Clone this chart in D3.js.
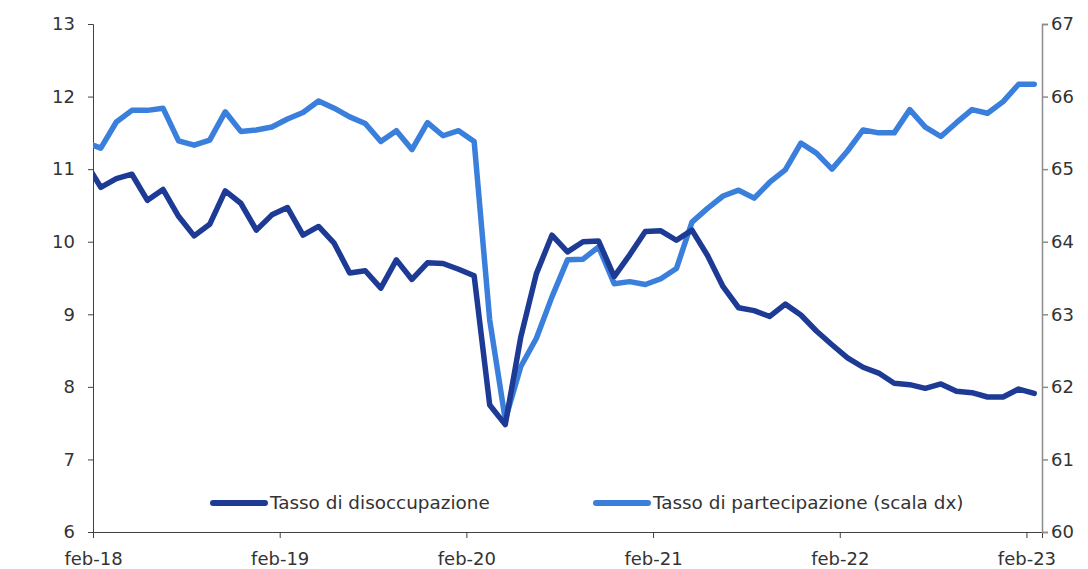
<!DOCTYPE html>
<html>
<head>
<meta charset="utf-8">
<script src="https://cdn.jsdelivr.net/npm/d3@7"></script>
<style>
  body { margin: 0; background: #fff; }
  text { font-family: "DejaVu Sans", sans-serif; fill: #333; }
</style>
</head>
<body>
<div id="vis"></div>
<script>
// months jan-18 .. feb-23 (jan-18 sits just outside the plot, clipped at the axis)
const MONTHS = [
  "2018-01","2018-02","2018-03","2018-04","2018-05","2018-06","2018-07","2018-08","2018-09","2018-10","2018-11","2018-12",
  "2019-01","2019-02","2019-03","2019-04","2019-05","2019-06","2019-07","2019-08","2019-09","2019-10","2019-11","2019-12",
  "2020-01","2020-02","2020-03","2020-04","2020-05","2020-06","2020-07","2020-08","2020-09","2020-10","2020-11","2020-12",
  "2021-01","2021-02","2021-03","2021-04","2021-05","2021-06","2021-07","2021-08","2021-09","2021-10","2021-11","2021-12",
  "2022-01","2022-02","2022-03","2022-04","2022-05","2022-06","2022-07","2022-08","2022-09","2022-10","2022-11","2022-12",
  "2023-01","2023-02"
];

// Tasso di disoccupazione (left axis)
const UNEMP = [
  11.10, 10.75, 10.87, 10.93, 10.57, 10.72, 10.35, 10.08, 10.24, 10.70, 10.53, 10.16,
  10.37, 10.47, 10.09, 10.21, 9.98, 9.57, 9.60, 9.36, 9.75, 9.48, 9.71, 9.70,
  9.62, 9.53, 7.75, 7.48, 8.69, 9.56, 10.09, 9.86, 10.00, 10.01, 9.52, 9.82,
  10.14, 10.15, 10.02, 10.16, 9.81, 9.38, 9.09, 9.05, 8.97, 9.14, 8.99, 8.77,
  8.58, 8.40, 8.27, 8.19, 8.05, 8.03, 7.98, 8.04, 7.94, 7.92, 7.86, 7.86,
  7.97, 7.91
];

// Tasso di partecipazione (right axis)
const PARTIC = [
  65.37, 65.29, 65.65, 65.81, 65.81, 65.84, 65.39, 65.33, 65.40, 65.79, 65.52, 65.54,
  65.58, 65.69, 65.78, 65.94, 65.84, 65.72, 65.63, 65.38, 65.53, 65.27, 65.64, 65.46,
  65.53, 65.38, 62.92, 61.55, 62.28, 62.67, 63.24, 63.75, 63.76, 63.93, 63.42, 63.45,
  63.41, 63.49, 63.63, 64.27, 64.46, 64.63, 64.71, 64.60, 64.82, 64.99, 65.36, 65.22,
  65.00, 65.25, 65.54, 65.50, 65.50, 65.82, 65.58, 65.45, 65.64, 65.82, 65.77, 65.93,
  66.17, 66.17
];

const X_TICKS = ["2018-02","2019-02","2020-02","2021-02","2022-02","2023-02"];
const X_TICK_LABELS = ["feb-18","feb-19","feb-20","feb-21","feb-22","feb-23"];
const Y_LEFT_TICKS = [6, 7, 8, 9, 10, 11, 12, 13];
const Y_RIGHT_TICKS = [60, 61, 62, 63, 64, 65, 66, 67];
const SERIES_NAMES = ["Tasso di disoccupazione", "Tasso di partecipazione (scala dx)"];

const FRAME_WIDTH = 1088;
const FRAME_HEIGHT = 569;
const PLOT = {left: 93, right: 1042, top: 24, bottom: 532};
const DARK = "#1d3a94";
const LIGHT = "#3a7fdc";

const svg = d3.select("#vis").append("svg")
    .attr("width", FRAME_WIDTH)
    .attr("height", FRAME_HEIGHT);

// month index counted from feb-18; each month is a band, points sit mid-band
const monthIdx = (s) => {
  const [y, m] = s.split("-").map(Number);
  return (y - 2018) * 12 + (m - 2);
};

const X = d3.scaleLinear().domain([0, 61]).range([PLOT.left, PLOT.right]);
const Y_LEFT = d3.scaleLinear().domain([6, 13]).range([PLOT.bottom, PLOT.top]);
const Y_RIGHT = d3.scaleLinear().domain([60, 67]).range([PLOT.bottom, PLOT.top]);

svg.append("clipPath").attr("id", "plotclip")
  .append("rect")
    .attr("x", PLOT.left).attr("y", 0)
    .attr("width", PLOT.right - PLOT.left)
    .attr("height", FRAME_HEIGHT);

// axes
const xAxis = svg.append("g")
    .attr("transform", "translate(0," + PLOT.bottom + ")")
    .call(d3.axisBottom(X)
      .tickValues(X_TICKS.map(monthIdx))
      .tickFormat((d, i) => X_TICK_LABELS[i])
      .tickSizeOuter(0).tickSize(6).tickPadding(14));
xAxis.select(".domain").attr("stroke", "#404040");
xAxis.selectAll(".tick line").attr("stroke", "#404040");

const yAxisL = svg.append("g")
    .attr("transform", "translate(" + PLOT.left + ",0)")
    .call(d3.axisLeft(Y_LEFT).tickValues(Y_LEFT_TICKS).tickFormat(d3.format("d"))
      .tickSizeOuter(0).tickSize(5).tickPadding(13));
yAxisL.select(".domain").attr("stroke", "#404040");
yAxisL.selectAll(".tick line").attr("stroke", "#404040");

const yAxisR = svg.append("g")
    .attr("transform", "translate(" + PLOT.right + ",0)")
    .call(d3.axisRight(Y_RIGHT).tickValues(Y_RIGHT_TICKS).tickFormat(d3.format("d"))
      .tickSizeOuter(0).tickSize(6).tickPadding(3));
yAxisR.select(".domain").attr("stroke", "#8c8c8c").attr("stroke-width", 1.5);
yAxisR.selectAll(".tick line").attr("stroke", "#8c8c8c").attr("stroke-width", 1.5);

svg.selectAll(".tick text")
    .attr("font-family", "DejaVu Sans")
    .attr("font-size", "18px")
    .attr("fill", "#333");

// lines
const lineL = d3.line()
    .x((d, i) => X(monthIdx(MONTHS[i]) + 0.5))
    .y((d) => Y_LEFT(d));
const lineR = d3.line()
    .x((d, i) => X(monthIdx(MONTHS[i]) + 0.5))
    .y((d) => Y_RIGHT(d));

const lines = svg.append("g").attr("clip-path", "url(#plotclip)");

lines.append("path")
    .datum(PARTIC)
    .attr("d", lineR)
    .attr("fill", "none")
    .attr("stroke", LIGHT)
    .attr("stroke-width", 5.5)
    .attr("stroke-linejoin", "round")
    .attr("stroke-linecap", "round");

lines.append("path")
    .datum(UNEMP)
    .attr("d", lineL)
    .attr("fill", "none")
    .attr("stroke", DARK)
    .attr("stroke-width", 5.5)
    .attr("stroke-linejoin", "round")
    .attr("stroke-linecap", "round");

// legend
const legend = svg.append("g").attr("transform", "translate(0,503)");
const legendItems = [
  {name: SERIES_NAMES[0], color: DARK, x: 213},
  {name: SERIES_NAMES[1], color: LIGHT, x: 596}
];
legendItems.forEach((it) => {
  legend.append("line")
      .attr("x1", it.x).attr("x2", it.x + 52)
      .attr("y1", 0).attr("y2", 0)
      .attr("stroke", it.color)
      .attr("stroke-width", 6)
      .attr("stroke-linecap", "round");
  legend.append("text")
      .attr("x", it.x + 57)
      .attr("y", 0)
      .attr("dy", "0.35em")
      .attr("font-size", "18.4px")
      .text(it.name);
});
</script>
</body>
</html>
